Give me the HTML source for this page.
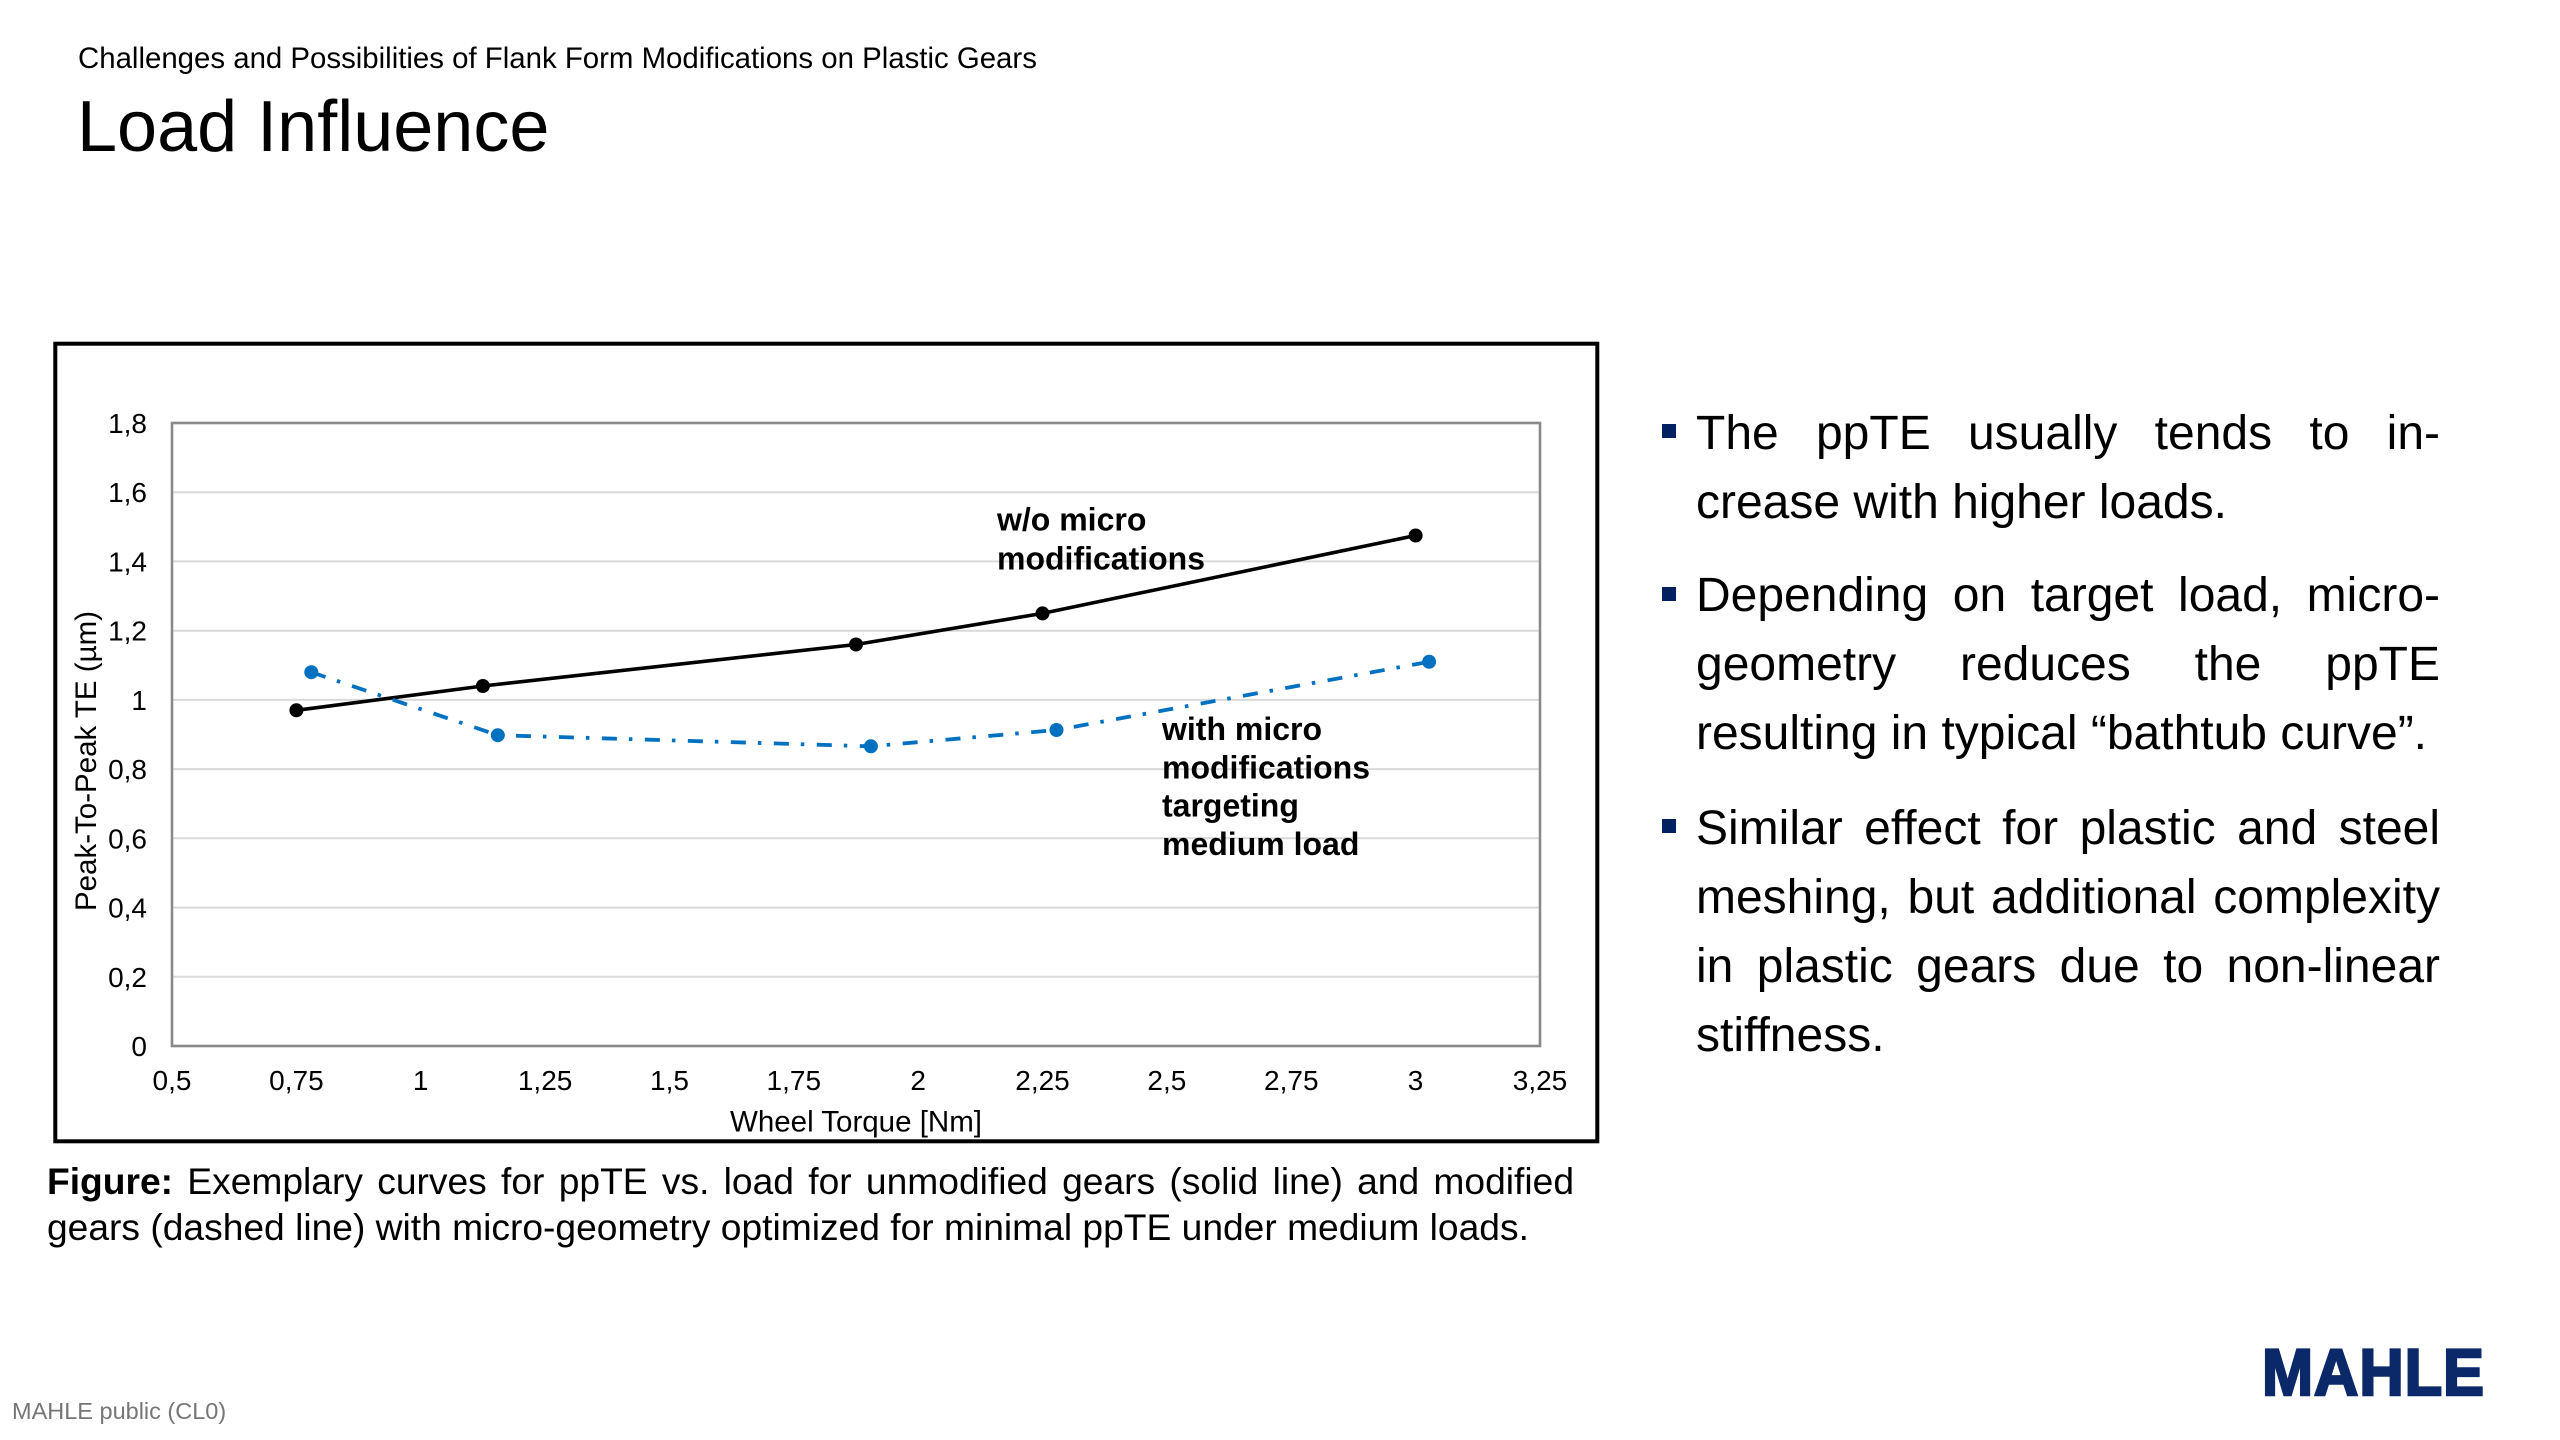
<!DOCTYPE html>
<html>
<head>
<meta charset="utf-8">
<style>
  html, body { margin:0; padding:0; background:#fff; }
  body { width:2560px; height:1440px; position:relative; overflow:hidden; font-family:"Liberation Sans", Arial, sans-serif; color:#000; }
  .abs { position:absolute; white-space:nowrap; }
  .sub { left:78px; top:44px; font-size:29.4px; line-height:29px; }
  .title { left:77px; top:91px; font-size:72px; line-height:72px; }
  .para { position:absolute; left:1696px; width:744px; font-size:48px; }
  .ln { height:69px; line-height:69px; white-space:nowrap; }
  .j { text-align:justify; text-align-last:justify; white-space:normal; overflow:hidden; }
  .bul { position:absolute; left:1662px; width:14px; height:14px; background:#002060; }
  .cap { position:absolute; left:47px; width:1527px; font-size:37.2px; }
  .cln { height:45.5px; line-height:45.5px; white-space:nowrap; }
  .footer { left:12px; top:1398px; font-size:23.5px; line-height:26px; color:#767676; }
  .logo { left:2262px; top:1339px; font-size:66px; line-height:66px; font-weight:bold; color:#0b2869; -webkit-text-stroke:2.5px #0b2869; transform-origin:left top; transform:scaleX(0.93); letter-spacing:1px; }
</style>
</head>
<body>

<div class="abs sub">Challenges and Possibilities of Flank Form Modifications on Plastic Gears</div>
<div class="abs title">Load Influence</div>

<svg class="abs" style="left:0;top:0" width="2560" height="1440" viewBox="0 0 2560 1440" xmlns="http://www.w3.org/2000/svg">
  <rect x="55.3" y="343.7" width="1542" height="797.6" fill="none" stroke="#000" stroke-width="4"/>
  <g stroke="#d9d9d9" stroke-width="2">
    <line x1="172" y1="492.2" x2="1540" y2="492.2"/>
    <line x1="172" y1="561.4" x2="1540" y2="561.4"/>
    <line x1="172" y1="630.7" x2="1540" y2="630.7"/>
    <line x1="172" y1="699.9" x2="1540" y2="699.9"/>
    <line x1="172" y1="769.1" x2="1540" y2="769.1"/>
    <line x1="172" y1="838.3" x2="1540" y2="838.3"/>
    <line x1="172" y1="907.6" x2="1540" y2="907.6"/>
    <line x1="172" y1="976.8" x2="1540" y2="976.8"/>
  </g>
  <rect x="172" y="423" width="1368" height="623" fill="none" stroke="#898989" stroke-width="2.6"/>

  <polyline points="296.4,710.3 482.9,686.0 856.0,644.5 1042.5,613.4 1415.6,535.5" fill="none" stroke="#000" stroke-width="3.6" stroke-linejoin="round"/>
  <g fill="#000">
    <circle cx="296.4" cy="710.3" r="7"/>
    <circle cx="482.9" cy="686.0" r="7"/>
    <circle cx="856.0" cy="644.5" r="7"/>
    <circle cx="1042.5" cy="613.4" r="7"/>
    <circle cx="1415.6" cy="535.5" r="7"/>
  </g>

  <polyline points="311.3,672.2 497.8,735.2 870.9,746.3 1056.5,730.0 1429.1,661.8" fill="none" stroke="#0070c0" stroke-width="3.8" stroke-dasharray="15 12 3.5 12.5"/>
  <g fill="#0070c0">
    <circle cx="311.3" cy="672.2" r="7"/>
    <circle cx="497.8" cy="735.2" r="7"/>
    <circle cx="870.9" cy="746.3" r="7"/>
    <circle cx="1056.5" cy="730.0" r="7"/>
    <circle cx="1429.1" cy="661.8" r="7"/>
  </g>

  <g font-family="Liberation Sans, Arial, sans-serif" font-size="28" fill="#000" text-anchor="end">
    <text x="147" y="433">1,8</text>
    <text x="147" y="502.2">1,6</text>
    <text x="147" y="571.4">1,4</text>
    <text x="147" y="640.7">1,2</text>
    <text x="147" y="709.9">1</text>
    <text x="147" y="779.1">0,8</text>
    <text x="147" y="848.3">0,6</text>
    <text x="147" y="917.6">0,4</text>
    <text x="147" y="986.8">0,2</text>
    <text x="147" y="1056">0</text>
  </g>
  <g font-family="Liberation Sans, Arial, sans-serif" font-size="28" fill="#000" text-anchor="middle">
    <text x="172" y="1090">0,5</text>
    <text x="296.4" y="1090">0,75</text>
    <text x="420.7" y="1090">1</text>
    <text x="545.1" y="1090">1,25</text>
    <text x="669.5" y="1090">1,5</text>
    <text x="793.8" y="1090">1,75</text>
    <text x="918.2" y="1090">2</text>
    <text x="1042.5" y="1090">2,25</text>
    <text x="1166.9" y="1090">2,5</text>
    <text x="1291.3" y="1090">2,75</text>
    <text x="1415.6" y="1090">3</text>
    <text x="1540" y="1090">3,25</text>
  </g>
  <text x="856" y="1131.5" font-family="Liberation Sans, Arial, sans-serif" font-size="29.5" text-anchor="middle" fill="#000">Wheel Torque [Nm]</text>
  <text transform="translate(96,761) rotate(-90)" x="0" y="0" font-family="Liberation Sans, Arial, sans-serif" font-size="29.5" text-anchor="middle" fill="#000">Peak-To-Peak TE (µm)</text>

  <g font-family="Liberation Sans, Arial, sans-serif" font-size="32" font-weight="bold" fill="#000">
    <text x="997" y="530.7">w/o micro</text>
    <text x="997" y="569.3">modifications</text>
    <text x="1162" y="740">with micro</text>
    <text x="1162" y="778.3">modifications</text>
    <text x="1162" y="816.6">targeting</text>
    <text x="1162" y="854.9">medium load</text>
  </g>
</svg>

<div class="cap" style="top:1159.4px;">
  <div class="cln j"><b>Figure:</b> Exemplary curves for ppTE vs. load for unmodified gears (solid line) and modified</div>
  <div class="cln">gears (dashed line) with micro-geometry optimized for minimal ppTE under medium loads.</div>
</div>

<div class="bul" style="top:423.5px;"></div>
<div class="bul" style="top:587px;"></div>
<div class="bul" style="top:819px;"></div>

<div class="para" style="top:398.9px;">
  <div class="ln j">The ppTE usually tends to in-</div>
  <div class="ln">crease with higher loads.</div>
</div>
<div class="para" style="top:560.6px;">
  <div class="ln j">Depending on target load, micro-</div>
  <div class="ln j">geometry reduces the ppTE</div>
  <div class="ln">resulting in typical “bathtub curve”.</div>
</div>
<div class="para" style="top:793.6px;">
  <div class="ln j">Similar effect for plastic and steel</div>
  <div class="ln j">meshing, but additional complexity</div>
  <div class="ln j">in plastic gears due to non-linear</div>
  <div class="ln">stiffness.</div>
</div>

<div class="abs footer">MAHLE public (CL0)</div>
<div class="abs logo">MAHLE</div>

</body>
</html>
